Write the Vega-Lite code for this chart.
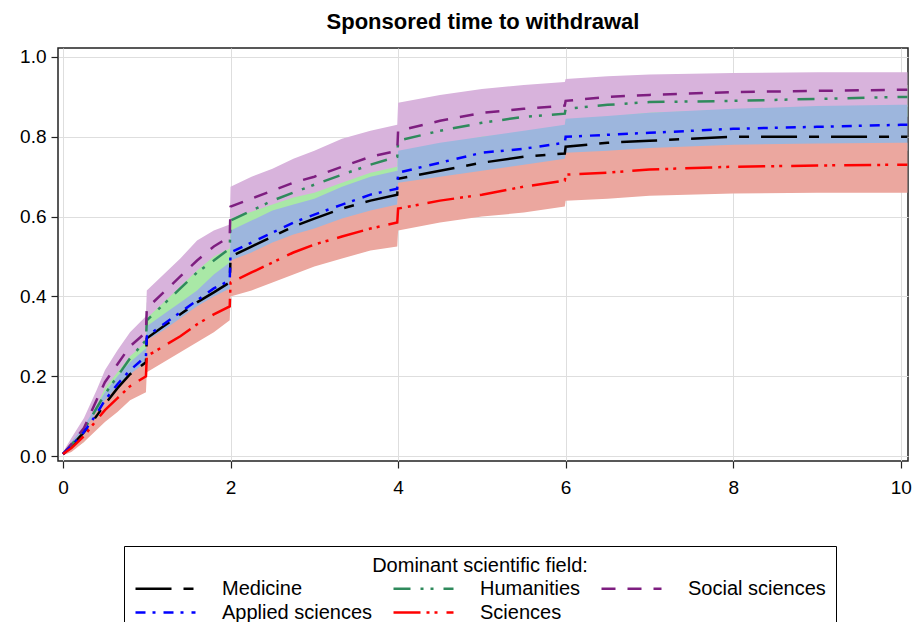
{
  "$schema": "https://vega.github.io/schema/vega-lite/v6.json",
  "width": 850,
  "height": 413,
  "autosize": {"type": "none"},
  "padding": {"left": 58, "top": 48, "right": 6, "bottom": 161},
  "background": "#ffffff",
  "title": {"text": "Sponsored time to withdrawal", "font": "Liberation Sans", "fontSize": 22, "fontWeight": "bold", "color": "#000000", "anchor": "middle", "offset": 14},
  "config": {
    "font": "Liberation Sans",
    "view": {"stroke": "#222222", "strokeWidth": 1.5},
    "axis": {"domain": false, "grid": true, "gridColor": "#dedede", "gridWidth": 1, "tickColor": "#222222", "tickSize": 7, "tickWidth": 1.2, "labelFontSize": 19, "labelColor": "#000000", "labelFont": "Liberation Sans"},
    "axisX": {"labelPadding": 10},
    "axisY": {"labelPadding": 5}
  },
  "datasets": {
    "med": [
      {"g":"Medicine","t":0,"s":0.005},{"g":"Medicine","t":0.1,"s":0.025},{"g":"Medicine","t":0.25,"s":0.06},{"g":"Medicine","t":0.4,"s":0.10},{"g":"Medicine","t":0.5,"s":0.13},{"g":"Medicine","t":0.65,"s":0.17},{"g":"Medicine","t":0.8,"s":0.205},{"g":"Medicine","t":0.99,"s":0.235},{"g":"Medicine","t":1,"s":0.295},{"g":"Medicine","t":1.2,"s":0.325},{"g":"Medicine","t":1.4,"s":0.355},{"g":"Medicine","t":1.6,"s":0.385},{"g":"Medicine","t":1.8,"s":0.41},{"g":"Medicine","t":1.99,"s":0.435},{"g":"Medicine","t":2,"s":0.50},{"g":"Medicine","t":2.25,"s":0.525},{"g":"Medicine","t":2.5,"s":0.55},{"g":"Medicine","t":2.75,"s":0.575},{"g":"Medicine","t":3,"s":0.595},{"g":"Medicine","t":3.33,"s":0.62},{"g":"Medicine","t":3.67,"s":0.64},{"g":"Medicine","t":3.99,"s":0.655},{"g":"Medicine","t":4,"s":0.695},{"g":"Medicine","t":4.5,"s":0.715},{"g":"Medicine","t":5,"s":0.735},{"g":"Medicine","t":5.5,"s":0.75},{"g":"Medicine","t":5.99,"s":0.758},{"g":"Medicine","t":6,"s":0.775},{"g":"Medicine","t":6.5,"s":0.785},{"g":"Medicine","t":7,"s":0.79},{"g":"Medicine","t":8,"s":0.80},{"g":"Medicine","t":9,"s":0.80},{"g":"Medicine","t":10,"s":0.80},{"g":"Medicine","t":10.08,"s":0.80}
    ],
    "hum": [
      {"g":"Humanities","t":0,"s":0.005,"lo":0.002,"hi":0.008},{"g":"Humanities","t":0.1,"s":0.028,"lo":0.013,"hi":0.04},{"g":"Humanities","t":0.25,"s":0.065,"lo":0.035,"hi":0.09},{"g":"Humanities","t":0.4,"s":0.12,"lo":0.085,"hi":0.15},{"g":"Humanities","t":0.5,"s":0.155,"lo":0.115,"hi":0.19},{"g":"Humanities","t":0.65,"s":0.20,"lo":0.16,"hi":0.235},{"g":"Humanities","t":0.8,"s":0.245,"lo":0.2,"hi":0.285},{"g":"Humanities","t":0.99,"s":0.29,"lo":0.245,"hi":0.33},{"g":"Humanities","t":1,"s":0.34,"lo":0.29,"hi":0.385},{"g":"Humanities","t":1.2,"s":0.38,"lo":0.33,"hi":0.425},{"g":"Humanities","t":1.4,"s":0.42,"lo":0.37,"hi":0.465},{"g":"Humanities","t":1.6,"s":0.46,"lo":0.41,"hi":0.505},{"g":"Humanities","t":1.8,"s":0.49,"lo":0.44,"hi":0.535},{"g":"Humanities","t":1.99,"s":0.52,"lo":0.47,"hi":0.565},{"g":"Humanities","t":2,"s":0.59,"lo":0.545,"hi":0.635},{"g":"Humanities","t":2.25,"s":0.615,"lo":0.57,"hi":0.66},{"g":"Humanities","t":2.5,"s":0.64,"lo":0.595,"hi":0.685},{"g":"Humanities","t":2.75,"s":0.66,"lo":0.615,"hi":0.705},{"g":"Humanities","t":3,"s":0.68,"lo":0.635,"hi":0.725},{"g":"Humanities","t":3.33,"s":0.705,"lo":0.655,"hi":0.75},{"g":"Humanities","t":3.67,"s":0.73,"lo":0.68,"hi":0.775},{"g":"Humanities","t":3.99,"s":0.75,"lo":0.70,"hi":0.795},{"g":"Humanities","t":4,"s":0.79,"lo":0.74,"hi":0.83},{"g":"Humanities","t":4.5,"s":0.815,"lo":0.765,"hi":0.855},{"g":"Humanities","t":5,"s":0.835,"lo":0.785,"hi":0.87},{"g":"Humanities","t":5.5,"s":0.85,"lo":0.80,"hi":0.885},{"g":"Humanities","t":5.99,"s":0.858,"lo":0.808,"hi":0.895},{"g":"Humanities","t":6,"s":0.87,"lo":0.82,"hi":0.905},{"g":"Humanities","t":6.5,"s":0.88,"lo":0.83,"hi":0.912},{"g":"Humanities","t":7,"s":0.887,"lo":0.837,"hi":0.918},{"g":"Humanities","t":8,"s":0.89,"lo":0.84,"hi":0.92},{"g":"Humanities","t":9,"s":0.895,"lo":0.845,"hi":0.925},{"g":"Humanities","t":10,"s":0.90,"lo":0.85,"hi":0.93},{"g":"Humanities","t":10.08,"s":0.90,"lo":0.85,"hi":0.93}
    ],
    "soc": [
      {"g":"Social sciences","t":0,"s":0.005,"lo":0.002,"hi":0.01},{"g":"Social sciences","t":0.1,"s":0.03,"lo":0.02,"hi":0.045},{"g":"Social sciences","t":0.25,"s":0.07,"lo":0.055,"hi":0.095},{"g":"Social sciences","t":0.4,"s":0.14,"lo":0.125,"hi":0.165},{"g":"Social sciences","t":0.5,"s":0.185,"lo":0.17,"hi":0.215},{"g":"Social sciences","t":0.65,"s":0.23,"lo":0.21,"hi":0.265},{"g":"Social sciences","t":0.8,"s":0.275,"lo":0.25,"hi":0.31},{"g":"Social sciences","t":0.99,"s":0.31,"lo":0.285,"hi":0.35},{"g":"Social sciences","t":1,"s":0.37,"lo":0.345,"hi":0.415},{"g":"Social sciences","t":1.2,"s":0.41,"lo":0.385,"hi":0.455},{"g":"Social sciences","t":1.4,"s":0.45,"lo":0.425,"hi":0.495},{"g":"Social sciences","t":1.6,"s":0.49,"lo":0.465,"hi":0.54},{"g":"Social sciences","t":1.8,"s":0.525,"lo":0.50,"hi":0.565},{"g":"Social sciences","t":1.99,"s":0.55,"lo":0.52,"hi":0.58},{"g":"Social sciences","t":2,"s":0.625,"lo":0.595,"hi":0.675},{"g":"Social sciences","t":2.25,"s":0.645,"lo":0.612,"hi":0.70},{"g":"Social sciences","t":2.5,"s":0.665,"lo":0.63,"hi":0.72},{"g":"Social sciences","t":2.75,"s":0.685,"lo":0.648,"hi":0.745},{"g":"Social sciences","t":3,"s":0.70,"lo":0.66,"hi":0.765},{"g":"Social sciences","t":3.33,"s":0.725,"lo":0.685,"hi":0.795},{"g":"Social sciences","t":3.67,"s":0.75,"lo":0.71,"hi":0.815},{"g":"Social sciences","t":3.99,"s":0.765,"lo":0.725,"hi":0.83},{"g":"Social sciences","t":4,"s":0.815,"lo":0.76,"hi":0.885},{"g":"Social sciences","t":4.5,"s":0.84,"lo":0.78,"hi":0.905},{"g":"Social sciences","t":5,"s":0.86,"lo":0.80,"hi":0.92},{"g":"Social sciences","t":5.5,"s":0.87,"lo":0.81,"hi":0.93},{"g":"Social sciences","t":5.99,"s":0.878,"lo":0.82,"hi":0.937},{"g":"Social sciences","t":6,"s":0.89,"lo":0.84,"hi":0.945},{"g":"Social sciences","t":6.5,"s":0.90,"lo":0.85,"hi":0.952},{"g":"Social sciences","t":7,"s":0.905,"lo":0.86,"hi":0.956},{"g":"Social sciences","t":8,"s":0.912,"lo":0.868,"hi":0.96},{"g":"Social sciences","t":9,"s":0.915,"lo":0.872,"hi":0.962},{"g":"Social sciences","t":10,"s":0.918,"lo":0.875,"hi":0.962},{"g":"Social sciences","t":10.08,"s":0.918,"lo":0.875,"hi":0.962}
    ],
    "app": [
      {"g":"Applied sciences","t":0,"s":0.005,"lo":0.002,"hi":0.008},{"g":"Applied sciences","t":0.1,"s":0.025,"lo":0.015,"hi":0.035},{"g":"Applied sciences","t":0.25,"s":0.06,"lo":0.045,"hi":0.075},{"g":"Applied sciences","t":0.4,"s":0.105,"lo":0.08,"hi":0.125},{"g":"Applied sciences","t":0.5,"s":0.14,"lo":0.11,"hi":0.16},{"g":"Applied sciences","t":0.65,"s":0.18,"lo":0.145,"hi":0.2},{"g":"Applied sciences","t":0.8,"s":0.215,"lo":0.175,"hi":0.235},{"g":"Applied sciences","t":0.99,"s":0.25,"lo":0.205,"hi":0.27},{"g":"Applied sciences","t":1,"s":0.30,"lo":0.25,"hi":0.325},{"g":"Applied sciences","t":1.2,"s":0.33,"lo":0.28,"hi":0.355},{"g":"Applied sciences","t":1.4,"s":0.36,"lo":0.31,"hi":0.385},{"g":"Applied sciences","t":1.6,"s":0.39,"lo":0.34,"hi":0.415},{"g":"Applied sciences","t":1.8,"s":0.42,"lo":0.365,"hi":0.455},{"g":"Applied sciences","t":1.99,"s":0.44,"lo":0.385,"hi":0.485},{"g":"Applied sciences","t":2,"s":0.51,"lo":0.455,"hi":0.565},{"g":"Applied sciences","t":2.25,"s":0.535,"lo":0.48,"hi":0.59},{"g":"Applied sciences","t":2.5,"s":0.56,"lo":0.505,"hi":0.615},{"g":"Applied sciences","t":2.75,"s":0.585,"lo":0.525,"hi":0.63},{"g":"Applied sciences","t":3,"s":0.605,"lo":0.545,"hi":0.645},{"g":"Applied sciences","t":3.33,"s":0.63,"lo":0.57,"hi":0.675},{"g":"Applied sciences","t":3.67,"s":0.655,"lo":0.595,"hi":0.70},{"g":"Applied sciences","t":3.99,"s":0.67,"lo":0.61,"hi":0.715},{"g":"Applied sciences","t":4,"s":0.71,"lo":0.65,"hi":0.765},{"g":"Applied sciences","t":4.5,"s":0.735,"lo":0.675,"hi":0.785},{"g":"Applied sciences","t":5,"s":0.76,"lo":0.695,"hi":0.80},{"g":"Applied sciences","t":5.5,"s":0.77,"lo":0.705,"hi":0.815},{"g":"Applied sciences","t":5.99,"s":0.785,"lo":0.72,"hi":0.83},{"g":"Applied sciences","t":6,"s":0.80,"lo":0.735,"hi":0.845},{"g":"Applied sciences","t":6.5,"s":0.805,"lo":0.74,"hi":0.852},{"g":"Applied sciences","t":7,"s":0.81,"lo":0.745,"hi":0.86},{"g":"Applied sciences","t":8,"s":0.82,"lo":0.755,"hi":0.87},{"g":"Applied sciences","t":9,"s":0.825,"lo":0.76,"hi":0.877},{"g":"Applied sciences","t":10,"s":0.83,"lo":0.765,"hi":0.88},{"g":"Applied sciences","t":10.08,"s":0.83,"lo":0.765,"hi":0.88}
    ],
    "sci": [
      {"g":"Sciences","t":0,"s":0.005,"lo":0.002,"hi":0.008},{"g":"Sciences","t":0.1,"s":0.02,"lo":0.01,"hi":0.03},{"g":"Sciences","t":0.25,"s":0.05,"lo":0.035,"hi":0.065},{"g":"Sciences","t":0.4,"s":0.09,"lo":0.065,"hi":0.11},{"g":"Sciences","t":0.5,"s":0.115,"lo":0.085,"hi":0.14},{"g":"Sciences","t":0.65,"s":0.145,"lo":0.11,"hi":0.175},{"g":"Sciences","t":0.8,"s":0.175,"lo":0.14,"hi":0.205},{"g":"Sciences","t":0.99,"s":0.20,"lo":0.16,"hi":0.235},{"g":"Sciences","t":1,"s":0.25,"lo":0.21,"hi":0.29},{"g":"Sciences","t":1.2,"s":0.275,"lo":0.235,"hi":0.315},{"g":"Sciences","t":1.4,"s":0.30,"lo":0.26,"hi":0.345},{"g":"Sciences","t":1.6,"s":0.33,"lo":0.285,"hi":0.375},{"g":"Sciences","t":1.8,"s":0.355,"lo":0.31,"hi":0.40},{"g":"Sciences","t":1.99,"s":0.375,"lo":0.34,"hi":0.42},{"g":"Sciences","t":2,"s":0.435,"lo":0.40,"hi":0.49},{"g":"Sciences","t":2.25,"s":0.46,"lo":0.415,"hi":0.51},{"g":"Sciences","t":2.5,"s":0.485,"lo":0.435,"hi":0.535},{"g":"Sciences","t":2.75,"s":0.51,"lo":0.455,"hi":0.555},{"g":"Sciences","t":3,"s":0.53,"lo":0.475,"hi":0.57},{"g":"Sciences","t":3.33,"s":0.55,"lo":0.495,"hi":0.595},{"g":"Sciences","t":3.67,"s":0.57,"lo":0.515,"hi":0.615},{"g":"Sciences","t":3.99,"s":0.585,"lo":0.525,"hi":0.63},{"g":"Sciences","t":4,"s":0.62,"lo":0.565,"hi":0.685},{"g":"Sciences","t":4.5,"s":0.64,"lo":0.585,"hi":0.70},{"g":"Sciences","t":5,"s":0.655,"lo":0.60,"hi":0.715},{"g":"Sciences","t":5.5,"s":0.675,"lo":0.61,"hi":0.73},{"g":"Sciences","t":5.99,"s":0.69,"lo":0.625,"hi":0.745},{"g":"Sciences","t":6,"s":0.705,"lo":0.64,"hi":0.76},{"g":"Sciences","t":6.5,"s":0.71,"lo":0.645,"hi":0.765},{"g":"Sciences","t":7,"s":0.718,"lo":0.652,"hi":0.772},{"g":"Sciences","t":8,"s":0.725,"lo":0.658,"hi":0.78},{"g":"Sciences","t":9,"s":0.728,"lo":0.66,"hi":0.783},{"g":"Sciences","t":10,"s":0.73,"lo":0.66,"hi":0.785},{"g":"Sciences","t":10.08,"s":0.73,"lo":0.66,"hi":0.785}
    ]
  },
  "encoding": {
    "x": {"field": "t", "type": "quantitative", "title": null,
          "scale": {"domain": [-0.06, 10.087], "nice": false, "zero": false},
          "axis": {"values": [0, 2, 4, 6, 8, 10], "format": "d"}}
  },
  "layer": [
    {
      "data": {"name": "hum"},
      "mark": {"type": "area", "interpolate": "linear", "color": "#a9e8a6", "opacity": 1},
      "encoding": {
        "y": {"field": "lo", "type": "quantitative", "title": null,
              "scale": {"domain": [-0.0125, 1.0225], "nice": false, "zero": false},
              "axis": {"values": [0, 0.2, 0.4, 0.6, 0.8, 1.0], "format": ".1f"}},
        "y2": {"field": "hi"}
      }
    },
    {
      "data": {"name": "soc"},
      "mark": {"type": "area", "interpolate": "linear", "color": "#d8b3dc", "opacity": 1},
      "encoding": {"y": {"field": "lo", "type": "quantitative", "title": null}, "y2": {"field": "hi"}}
    },
    {
      "data": {"name": "app"},
      "mark": {"type": "area", "interpolate": "linear", "color": "#9db6dd", "opacity": 1},
      "encoding": {"y": {"field": "lo", "type": "quantitative", "title": null}, "y2": {"field": "hi"}}
    },
    {
      "data": {"name": "sci"},
      "mark": {"type": "area", "interpolate": "linear", "color": "#eba79f", "opacity": 1},
      "encoding": {"y": {"field": "lo", "type": "quantitative", "title": null}, "y2": {"field": "hi"}}
    },
    {
      "layer": [
        {"data": {"name": "med"}, "mark": {"type": "line", "interpolate": "linear", "strokeWidth": 2.5}},
        {"data": {"name": "hum"}, "mark": {"type": "line", "interpolate": "linear", "strokeWidth": 2.5}},
        {"data": {"name": "soc"}, "mark": {"type": "line", "interpolate": "linear", "strokeWidth": 2.5}},
        {"data": {"name": "app"}, "mark": {"type": "line", "interpolate": "linear", "strokeWidth": 2.5}},
        {"data": {"name": "sci"}, "mark": {"type": "line", "interpolate": "linear", "strokeWidth": 2.5}}
      ],
      "encoding": {
        "y": {"field": "s", "type": "quantitative", "title": null},
        "color": {"field": "g", "type": "nominal", "title": "Dominant scientific field:",
                  "scale": {"domain": ["Medicine", "Humanities", "Social sciences", "Applied sciences", "Sciences"],
                            "range": ["#000000", "#2f8a5c", "#7e1e80", "#0000ff", "#ff0000"]},
                  "legend": {"orient": "none", "legendX": 66, "legendY": 498, "columns": 3, "direction": "horizontal",
                             "symbolType": "M-1,0H5", "symbolSize": 400, "symbolStrokeWidth": 2.5,
                             "labelFontSize": 20, "labelColor": "#000000", "labelOffset": 65, "labelLimit": 400,
                             "titleFontSize": 20, "titleFontWeight": "normal", "titleColor": "#000000", "titleAnchor": "middle", "titlePadding": 1, "titleLimit": 700,
                             "strokeColor": "#000000", "fillColor": "#ffffff", "padding": 10, "columnPadding": 15, "rowPadding": 2, "gridAlign": "each"}},
        "strokeDash": {"field": "g", "type": "nominal", "title": "Dominant scientific field:",
                  "scale": {"domain": ["Medicine", "Humanities", "Social sciences", "Applied sciences", "Sciences"],
                            "range": [[36, 12, 10, 12], [17, 10, 3, 7, 3, 10], [14, 12], [10, 7, 3, 8], [27, 6, 3, 5, 3, 9]]}}
      }
    }
  ]
}
